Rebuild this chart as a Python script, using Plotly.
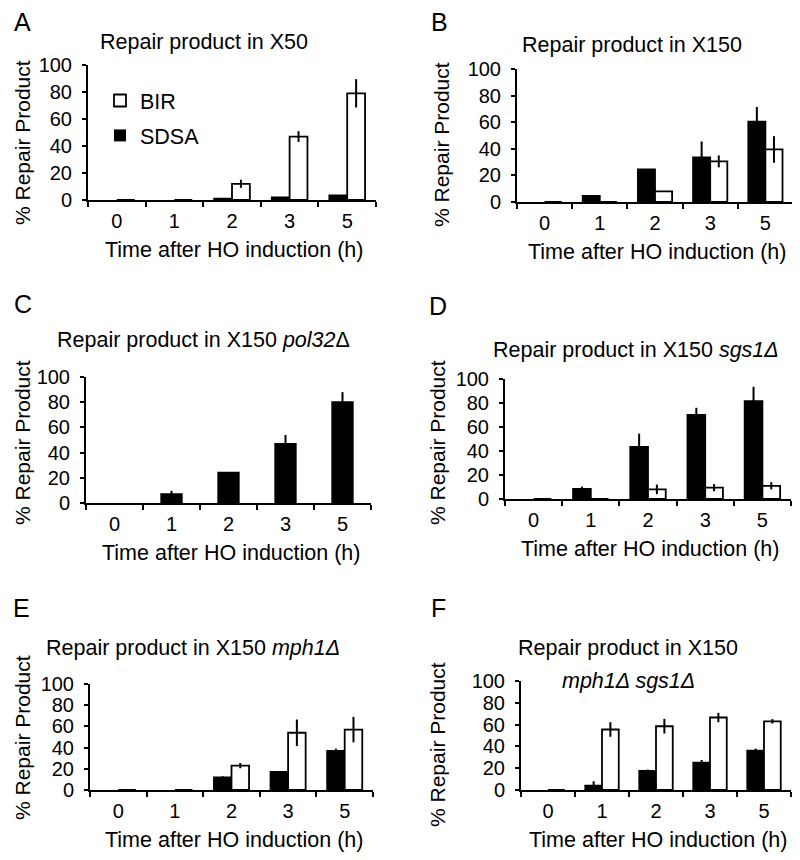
import plotly.graph_objects as go

# categories
times = ["0", "1", "2", "3", "5"]

# panel A - X50
a_sdsa = [0, 0, 1, 2, 3.5]
a_sdsa_err = [0, 0, 0, 0, 0]
a_bir = [0, 0, 12, 47, 79]
a_bir_err = [0, 0, 3, 4, 10.5]

# panel B - X150
b_sdsa = [0, 4.5, 24.5, 33.5, 60.5]
b_sdsa_err = [0, 0, 0, 12, 11]
b_bir = [0, 0, 8, 30.5, 39.5]
b_bir_err = [0, 0, 0, 4.5, 10]

# panel C - X150 pol32
c_sdsa = [0, 7, 24, 47, 80]
c_sdsa_err = [0, 2.7, 0.5, 7, 8]

# panel D - X150 sgs1
d_sdsa = [0, 8.5, 43.5, 70, 81.5]
d_sdsa_err = [0, 1.8, 11, 6, 12]
d_bir = [0, 0, 8, 9.5, 11]
d_bir_err = [0, 0, 4, 3, 3]

# panel E - X150 mph1
e_sdsa = [0, 0, 12, 17, 37]
e_sdsa_err = [0, 0, 1, 0, 2]
e_bir = [0, 0, 23, 54, 57]
e_bir_err = [0, 0, 2.5, 12.5, 12]

# panel F - X150 mph1 sgs1
f_sdsa = [0, 4, 17.5, 25, 36]
f_sdsa_err = [0, 4, 1.3, 2.5, 2]
f_bir = [0, 55.5, 58.5, 66.5, 63]
f_bir_err = [0, 6.7, 6.7, 4.3, 2]

# the page body has an 8px margin, so the figure is 8px smaller and
# all positions below are given in page pixels
OFF = 8
W, H = 800 - OFF, 860 - OFF
FONT = "Liberation Sans, Arial, sans-serif"


def px(x):
    return (x - OFF) / W


def py(y):
    return 1 - (y - OFF) / H


# panel boxes in page pixels: (x0, x1, ytop, ybottom)
boxes = [
    (88, 376, 65, 200),
    (517, 793, 69, 202),
    (86, 371, 377, 503),
    (505, 791, 379, 499),
    (90, 373, 684, 790),
    (521, 791, 681, 790),
]
# centre of the rotated y title of each panel
ytitle_pos = [(22, 143), (441, 145), (22, 443), (437, 442), (22, 738), (437, 744)]

panels = [
    (a_sdsa, a_sdsa_err, a_bir, a_bir_err),
    (b_sdsa, b_sdsa_err, b_bir, b_bir_err),
    (c_sdsa, c_sdsa_err, None, None),
    (d_sdsa, d_sdsa_err, d_bir, d_bir_err),
    (e_sdsa, e_sdsa_err, e_bir, e_bir_err),
    (f_sdsa, f_sdsa_err, f_bir, f_bir_err),
]


def outline(vals):
    # empty black bars get no outline, so nothing peeks above the axis
    return [0 if v == 0 else 1.8 for v in vals]


fig = go.Figure()

for i, (sd, sde, bi, bie) in enumerate(panels):
    n = "" if i == 0 else str(i + 1)
    err_style = dict(type="data", thickness=2, width=0, color="black")
    fig.add_trace(go.Bar(
        x=times, y=sd, name="SDSA",
        error_y=dict(array=sde, **err_style),
        marker=dict(color="black", line=dict(color="black", width=outline(sd))),
        xaxis="x" + n, yaxis="y" + n,
        showlegend=(i == 0), legendgroup="sdsa", legendrank=2,
        width=0.36 if bi is None else None,
    ))
    if bi is not None:
        fig.add_trace(go.Bar(
            x=times, y=bi, name="BIR",
            error_y=dict(array=bie, **err_style),
            marker=dict(color="white", line=dict(color="black", width=1.8)),
            xaxis="x" + n, yaxis="y" + n,
            showlegend=(i == 0), legendgroup="bir", legendrank=1,
        ))

layout = dict(
    width=W, height=H,
    margin=dict(l=0, r=0, t=0, b=0, autoexpand=False),
    paper_bgcolor="white", plot_bgcolor="white",
    font=dict(family=FONT, size=20, color="black"),
    barmode="group", bargap=0.38, bargroupgap=0,
    showlegend=True,
    legend=dict(x=px(100), y=py(80), xanchor="left", yanchor="top",
                font=dict(size=21.5), bgcolor="rgba(0,0,0,0)",
                tracegroupgap=4, itemclick=False),
)

for i, (x0, x1, yt, yb) in enumerate(boxes):
    n = "" if i == 0 else str(i + 1)
    layout["xaxis" + n] = dict(
        domain=[px(x0), px(x1)], anchor="y" + n,
        type="category", range=[-0.5, 4.5], automargin=False,
        showline=True, linecolor="black", linewidth=2,
        ticks="outside", tickson="boundaries", ticklen=5, tickwidth=2,
        tickcolor="black", ticklabelstandoff=2,
        showgrid=False, zeroline=False, fixedrange=True,
    )
    layout["yaxis" + n] = dict(
        domain=[py(yb), py(yt)], anchor="x" + n,
        range=[0, 100], tickvals=[0, 20, 40, 60, 80, 100], automargin=False,
        showline=True, linecolor="black", linewidth=2,
        ticks="outside", ticklen=4, tickwidth=2, tickcolor="black",
        ticklabelstandoff=6,
        showgrid=False, zeroline=False, fixedrange=True,
    )

fig.update_layout(**layout)

ann = []


def text(x, y, s, size=21.5, angle=0):
    ann.append(dict(x=px(x), y=py(y), xref="paper", yref="paper",
                    text=s, showarrow=False, textangle=angle,
                    xanchor="center", yanchor="middle",
                    font=dict(family=FONT, size=size, color="black")))


# panel letters
for (lx, ly, s) in [(22, 22, "A"), (439, 22, "B"), (23, 304, "C"),
                    (438, 306, "D"), (21, 608, "E"), (438, 608, "F")]:
    text(lx, ly, s, size=25)

# panel titles
text(204, 42, "Repair product in X50")
text(632, 45, "Repair product in X150")
text(203, 340, "Repair product in X150 <i>pol32</i>Δ")
text(636, 350, "Repair product in X150 <i>sgs1Δ</i>")
text(193, 648, "Repair product in X150 <i>mph1Δ</i>")
text(628, 648, "Repair product in X150")
text(628, 681, "<i>mph1Δ sgs1Δ</i>")

# axis titles
for (x0, x1, yt, yb), (tx, ty) in zip(boxes, ytitle_pos):
    text((x0 + x1) / 2 + 2, yb + 50, "Time after HO induction (h)")
    text(tx, ty, "% Repair Product", size=21, angle=-90)

fig.update_layout(annotations=ann)

fig.write_html("out.html")
